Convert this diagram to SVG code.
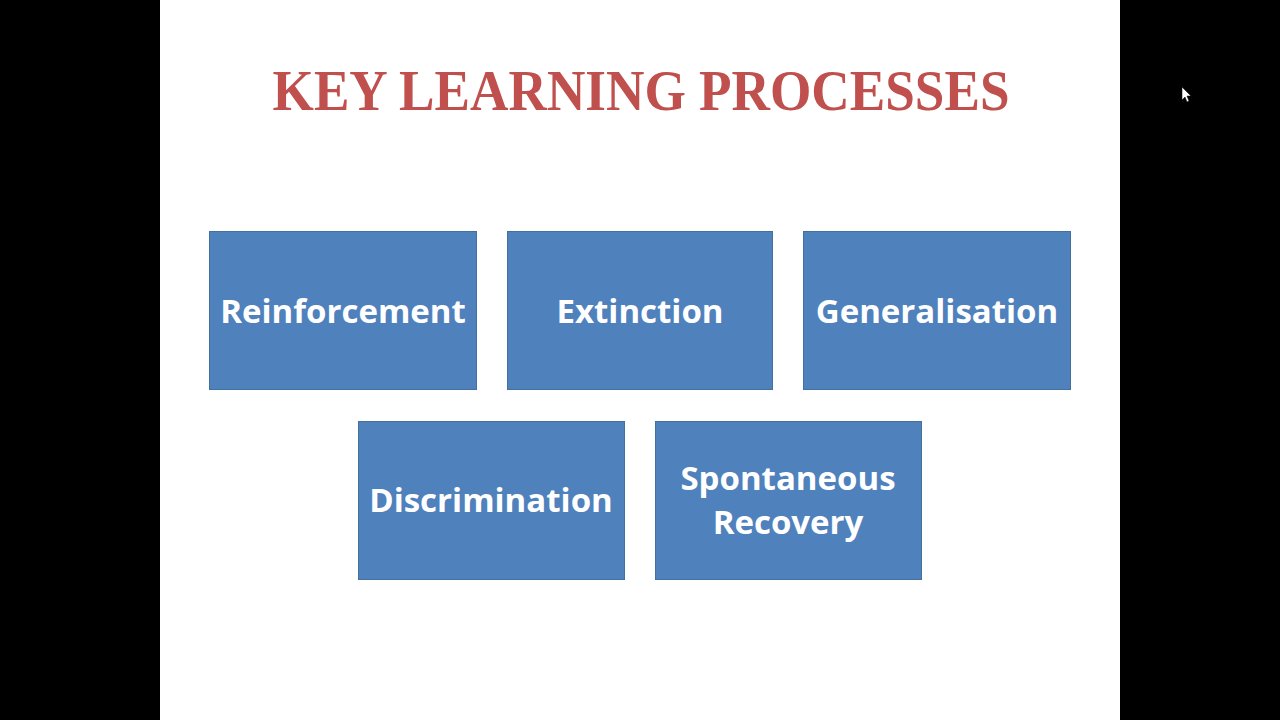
<svg xmlns="http://www.w3.org/2000/svg" width="1280" height="720" viewBox="0 0 1280 720">
<style>
.box{fill:#4F81BD;stroke:#41719C;stroke-width:1}
.lbl{font-family:"Open Sans","Liberation Sans",sans-serif;font-weight:bold;font-size:33px;fill:#FFFFFF;text-anchor:middle}
.title{font-family:"Liberation Serif","DejaVu Serif",serif;font-weight:bold;font-size:58px;fill:#C0504D;text-anchor:middle}
</style>
<rect x="0" y="0" width="1280" height="720" fill="#000000"/>
<rect x="160" y="0" width="960" height="720" fill="#FFFFFF"/>
<path d="M1182,87 L1182,100 L1185,97 L1187,102 L1189,101 L1187,96 L1191,96 Z" fill="#FFFFFF" stroke="#000" stroke-width="0.5"/>
<g id="title">
<text class="title" x="641" y="110" textLength="737" lengthAdjust="spacingAndGlyphs">KEY LEARNING PROCESSES</text>
</g>
<g id="connectors"></g>
<g id="reinforcement">
<rect class="box" x="209.5" y="231.5" width="267" height="158"/>
<text class="lbl" x="343" y="323">Reinforcement</text>
</g>
<g id="extinction">
<rect class="box" x="507.5" y="231.5" width="265" height="158"/>
<text class="lbl" x="640" y="323">Extinction</text>
</g>
<g id="generalisation">
<rect class="box" x="803.5" y="231.5" width="267" height="158"/>
<text class="lbl" x="937" y="323">Generalisation</text>
</g>
<g id="discrimination">
<rect class="box" x="358.5" y="421.5" width="266" height="158"/>
<text class="lbl" x="491" y="512">Discrimination</text>
</g>
<g id="spontaneous-recovery">
<rect class="box" x="655.5" y="421.5" width="266" height="158"/>
<text class="lbl" x="788" y="490">Spontaneous</text>
<text class="lbl" x="788" y="534">Recovery</text>
</g>
</svg>
